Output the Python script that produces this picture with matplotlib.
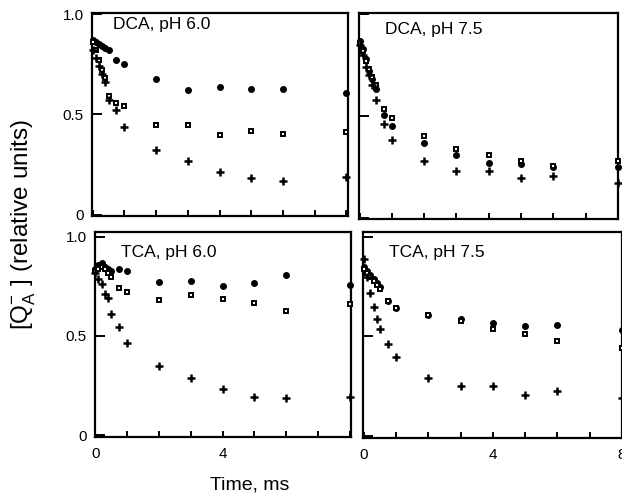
import matplotlib
matplotlib.use('Agg')
import matplotlib.pyplot as plt

plt.rcParams['font.family'] = ['Liberation Sans', 'DejaVu Sans']
plt.rcParams['mathtext.fontset'] = 'custom'
plt.rcParams['mathtext.rm'] = 'Liberation Sans'

# time points (ms), shared by all panels
time_ms = [0, 0.1, 0.2, 0.3, 0.4, 0.5, 0.75, 1, 2, 3, 4, 5, 6, 8]

# DCA, pH 6.0
dca60_circ = [0.87, 0.86, 0.85, 0.84, 0.83, 0.82, 0.77, 0.75, 0.677, 0.622, 0.638, 0.627, 0.627, 0.607]
dca60_sq = [0.86, 0.82, 0.77, 0.72, 0.68, 0.59, 0.555, 0.54, 0.45, 0.45, 0.40, 0.42, 0.405, 0.415]
dca60_plus = [0.82, 0.78, 0.74, 0.70, 0.66, 0.57, 0.52, 0.44, 0.325, 0.27, 0.215, 0.184, 0.17, 0.19]

# DCA, pH 7.5
dca75_circ = [0.87, 0.83, 0.78, 0.72, 0.68, 0.63, 0.505, 0.45, 0.37, 0.31, 0.27, 0.265, 0.25, 0.25]
dca75_sq = [0.86, 0.82, 0.77, 0.73, 0.69, 0.65, 0.535, 0.49, 0.40, 0.34, 0.31, 0.28, 0.255, 0.28]
dca75_plus = [0.85, 0.80, 0.74, 0.70, 0.65, 0.58, 0.46, 0.38, 0.28, 0.23, 0.23, 0.195, 0.207, 0.17]

# TCA, pH 6.0
tca60_circ = [0.84, 0.86, 0.87, 0.85, 0.84, 0.83, 0.84, 0.83, 0.775, 0.78, 0.75, 0.77, 0.81, 0.756]
tca60_sq = [0.83, 0.84, 0.85, 0.84, 0.82, 0.80, 0.74, 0.72, 0.68, 0.705, 0.687, 0.665, 0.626, 0.66]
tca60_plus = [0.82, 0.79, 0.76, 0.71, 0.69, 0.61, 0.547, 0.466, 0.35, 0.29, 0.23, 0.19, 0.185, 0.19]

# TCA, pH 7.5
tca75_circ = [0.85, 0.83, 0.81, 0.79, 0.77, 0.75, 0.68, 0.645, 0.61, 0.59, 0.567, 0.555, 0.56, 0.534]
tca75_sq = [0.84, 0.82, 0.80, 0.78, 0.76, 0.74, 0.68, 0.645, 0.61, 0.58, 0.54, 0.514, 0.476, 0.443]
tca75_plus = [0.89, 0.80, 0.72, 0.65, 0.59, 0.54, 0.46, 0.395, 0.29, 0.25, 0.25, 0.207, 0.227, 0.19]

titles = ['DCA, pH 6.0', 'DCA, pH 7.5', 'TCA, pH 6.0', 'TCA, pH 7.5']
series = [
    (dca60_circ, dca60_sq, dca60_plus),
    (dca75_circ, dca75_sq, dca75_plus),
    (tca60_circ, tca60_sq, tca60_plus),
    (tca75_circ, tca75_sq, tca75_plus),
]

fig = plt.figure(figsize=(6.22, 5.0), dpi=100)
positions = [
    [0.148, 0.568, 0.4115, 0.406],
    [0.577, 0.562, 0.4164, 0.412],
    [0.1527, 0.126, 0.4115, 0.41],
    [0.5836, 0.124, 0.4164, 0.412],
]
xlims = [(-0.02, 8.05), (-0.02, 8.0), (-0.01, 8.03), (-0.03, 8.0)]
ylims = [(-0.005, 1.005), (-0.005, 1.005), (-0.01, 1.025), (-0.01, 1.025)]
title_pos = [(0.082, 0.943), (0.10, 0.92), (0.10, 0.90), (0.10, 0.90)]

for i in range(4):
    ax = fig.add_axes(positions[i])
    circ, sq, plus = series[i]
    ax.plot(time_ms, circ, 'o', ms=4.0, color='black', clip_on=False, zorder=3)
    ax.plot(time_ms, sq, 's', ms=3.4, mfc='white', mec='black', mew=1.4, clip_on=False, zorder=3)
    ax.plot(time_ms, plus, '+', ms=6, mec='black', mew=1.8, clip_on=False, zorder=3)
    ax.set_xlim(*xlims[i])
    ax.set_ylim(*ylims[i])
    for sp in ax.spines.values():
        sp.set_linewidth(1.6)
    ax.set_xticks(range(9))
    ax.set_yticks([0, 0.5, 1.0])
    ax.tick_params(axis='x', direction='in', length=4, width=1.4, pad=7, labelsize=11)
    ax.tick_params(axis='y', direction='in', length=7, width=1.4, pad=6, labelsize=11)
    if i >= 2:
        if i == 2:
            ax.set_xticklabels(['0', '', '', '', '4', '', '', '', ''])
        else:
            ax.set_xticklabels(['0', '', '', '', '4', '', '', '', '8'])
    else:
        ax.set_xticklabels([])
    if i % 2 == 0:
        ax.set_yticklabels(['0', '0.5', '1.0'])
    else:
        ax.set_yticklabels([])
    ax.text(title_pos[i][0], title_pos[i][1], titles[i], transform=ax.transAxes,
            fontsize=12.5, ha='left', va='center')

fig.text(0.402, 0.03, 'Time, ms', fontsize=14, ha='center', va='center')
fig.text(0.037, 0.55, r'[Q$_\mathregular{A}^{-}$ ] (relative units)', fontsize=17.5,
         rotation=90, ha='center', va='center')

fig.savefig('out.png', dpi=100)
